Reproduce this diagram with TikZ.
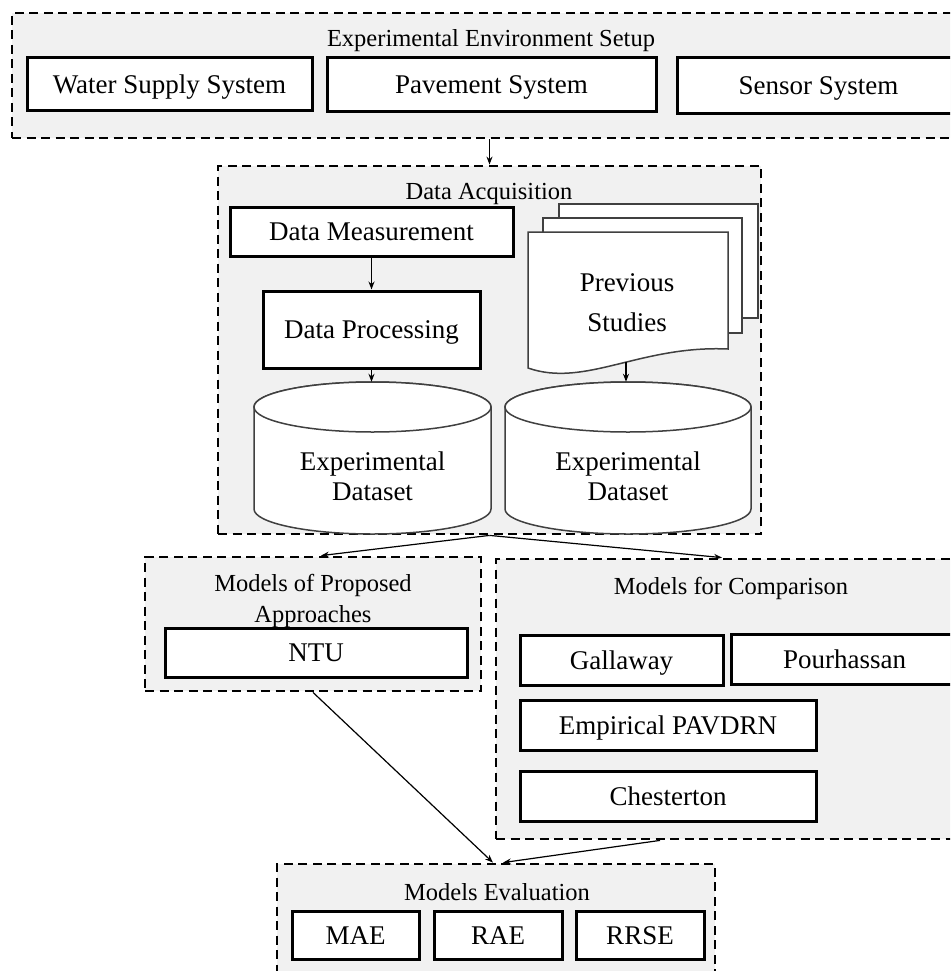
\documentclass[tikz,border=0pt]{standalone}
\usepackage{fontspec}
\setmainfont{Liberation Serif}
\usetikzlibrary{arrows.meta}
\definecolor{panel}{HTML}{F1F1F1}
\definecolor{docline}{HTML}{404040}
\begin{document}
\begin{tikzpicture}[x=1pt,y=-1pt,
 container/.style={draw=black, line width=2.8pt, dash pattern=on 9pt off 5.5pt, fill=panel, inner sep=0pt},
 box/.style={draw=black, line width=3pt, fill=white, inner sep=0pt, text height=18pt, text depth=0pt, font=\fontsize{27}{31}\selectfont},
 ttl/.style={inner sep=0pt, font=\fontsize{24.5}{31}\selectfont, align=center},
 lbl/.style={inner sep=0pt, align=center},
 arr/.style={line width=1.2pt, -{Stealth[length=8pt,width=6pt]}},
 shapeline/.style={draw=docline, line width=1.5pt, fill=white}]
\useasboundingbox (0,0) rectangle (950,971);
\clip (0,0) rectangle (950,971);
\fill[white] (0,0) rectangle (950,971);
% containers
\node[container, minimum width=980pt, minimum height=125pt] (top) at (502,75.5) {};
\node[container, minimum width=543pt, minimum height=368pt] (da) at (489.5,350) {};
\node[container, minimum width=336pt, minimum height=134pt] (mp) at (313,624) {};
\node[container, minimum width=500pt, minimum height=280pt] (mc) at (746,699) {};
\node[container, minimum width=438pt, minimum height=140pt] (me) at (496,934) {};
% top boxes
\node[box, minimum width=285pt, minimum height=53pt] (water) at (169.5,84.5) {Water Supply System};
\node[box, minimum width=329pt, minimum height=54pt] (pave) at (491.5,85) {Pavement System};
\node[box, minimum width=283pt, minimum height=56pt] (sensor) at (818.5,85.5) {Sensor System};
% data acquisition
\node[box, minimum width=283pt, minimum height=49pt] (dm) at (371.5,231.5) {Data Measurement};
\node[box, minimum width=217pt, minimum height=77pt] (dp) at (371.5,329.5) {Data Processing};
% documents
\draw[shapeline] (559,204) rectangle (758,318);
\draw[shapeline] (543,218) rectangle (742,333);
\draw[shapeline] (528,232) -- (728,232) -- (728,349) .. controls (640,345) and (585,388) .. (528,368) -- cycle;
\node[lbl, font=\fontsize{27}{40}\selectfont] (doc) at (627,303) {Previous\\Studies};
\coordinate (docw) at (626,362);
% cylinders
\node[inner sep=0pt, minimum width=237pt, minimum height=152pt] (cyl1) at (372.5,458) {};
\draw[shapeline] (254,407) -- (254,509) arc[start angle=180,end angle=360,x radius=118.5pt,y radius=25pt] -- (491,407) arc[start angle=0,end angle=180,x radius=118.5pt,y radius=25pt] -- cycle;
\draw[shapeline] (372.5,407) ellipse[x radius=118.5pt, y radius=25pt];
\node[lbl, font=\fontsize{27}{30}\selectfont] at (372.5,476) {Experimental\\Dataset};
\node[inner sep=0pt, minimum width=246pt, minimum height=152pt] (cyl2) at (628,458) {};
\draw[shapeline] (505,407) -- (505,509) arc[start angle=180,end angle=360,x radius=123pt,y radius=25pt] -- (751,407) arc[start angle=0,end angle=180,x radius=123pt,y radius=25pt] -- cycle;
\draw[shapeline] (628,407) ellipse[x radius=123pt, y radius=25pt];
\node[lbl, font=\fontsize{27}{30}\selectfont] at (628,476) {Experimental\\Dataset};
% models
\node[box, minimum width=302pt, minimum height=49pt] (ntu) at (316,652.5) {NTU};
\node[box, minimum width=203pt, minimum height=50pt] (gal) at (621.5,660) {Gallaway};
\node[box, minimum width=227pt, minimum height=50pt] (pour) at (844.5,659) {Pourhassan};
\node[box, minimum width=296pt, minimum height=50pt] (emp) at (668,725) {Empirical PAVDRN};
\node[box, minimum width=296pt, minimum height=50pt] (ches) at (668,796) {Chesterton};
% evaluation
\node[box, minimum width=127pt, minimum height=48pt] (mae) at (355.5,935) {MAE};
\node[box, minimum width=128pt, minimum height=48pt] (rae) at (498,935) {RAE};
\node[box, minimum width=128pt, minimum height=48pt] (rrse) at (640,935) {RRSE};
% titles
\node[ttl] (ttop) at (491,41) {Experimental Environment Setup};
\node[ttl] (tda) at (489,194) {Data Acquisition};
\node[ttl] (tmp) at (313,601) {Models of Proposed\\Approaches};
\node[ttl] (tmc) at (731,588) {Models for Comparison};
\node[ttl] (tme) at (497,892) {Models Evaluation};
% arrows
\draw[arr] (top.south -| da.north) -- (da.north);
\draw[arr] (dm.south) -- (dp.north);
\draw[arr] (dp.south) -- (dp.south |- cyl1.north);
\draw[arr] (docw) -- (docw |- cyl2.north);
\draw[arr] (da.south) -- ([xshift=8pt]mp.north);
\draw[arr] (da.south) -- ([xshift=-24pt]mc.north);
\draw[arr] (mp.south) -- ([xshift=-3pt]me.north);
\draw[arr] ([xshift=-86pt]mc.south) -- ([xshift=7pt]me.north);
\end{tikzpicture}
\end{document}
